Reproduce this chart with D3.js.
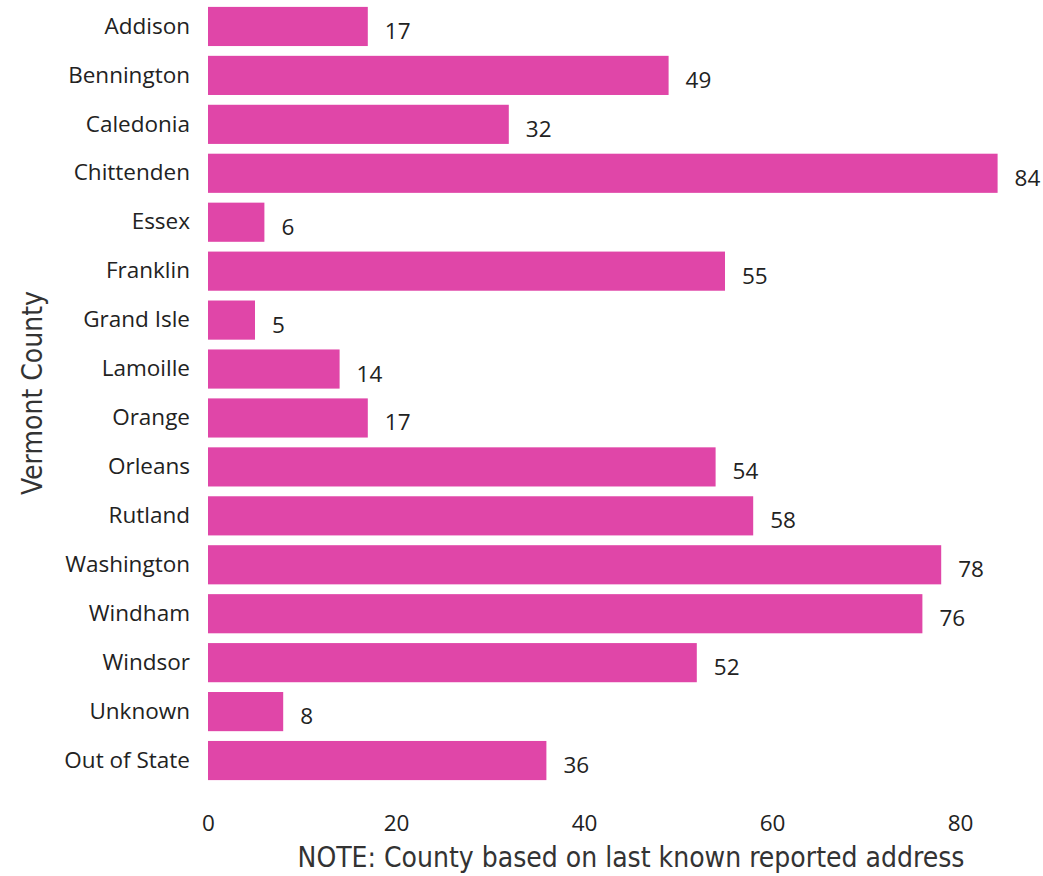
<!DOCTYPE html>
<html><head><meta charset="utf-8">
<script src="https://cdn.jsdelivr.net/npm/d3@7"></script>
<style>
body{margin:0;background:#fff;}
svg{display:block;}
</style></head>
<body>
<svg id="chart" width="1043" height="876"></svg>
<script>
const counties = ["Addison","Bennington","Caledonia","Chittenden","Essex","Franklin","Grand Isle","Lamoille","Orange","Orleans","Rutland","Washington","Windham","Windsor","Unknown","Out of State"];
const counts = [17,49,32,84,6,55,5,14,17,54,58,78,76,52,8,36];
const xTicks = [0,20,40,60,80];
const xTitle = "NOTE: County based on last known reported address";
const yTitle = "Vermont County";

const data = counties.map((c,i)=>({county:c, value:counts[i]}));
const svg = d3.select("#chart");
const mLeft = 208, mTop = 2;
const x = d3.scaleLinear().domain([0,80]).range([mLeft, mLeft + 752]);
const y = d3.scaleBand().domain(counties).range([mTop, mTop + 783]).paddingInner(0.2).paddingOuter(0.1);

const labelFont = "'Open Sans', 'Noto Sans', sans-serif";
const titleFont = "'DejaVu Sans Condensed', 'DejaVu Sans', sans-serif";
const color = "#E046A8";
const fs = 22.5;

svg.append("g").selectAll("rect").data(data).join("rect")
  .attr("x", x(0)).attr("y", d=>y(d.county))
  .attr("width", d=>x(d.value)-x(0)).attr("height", y.bandwidth())
  .attr("fill", color);

svg.append("g").selectAll("text").data(data).join("text")
  .attr("x", d=>x(d.value)+17).attr("y", d=>y(d.county)+y.bandwidth()/2+4)
  .attr("dominant-baseline","central")
  .attr("font-family", labelFont).attr("font-size", fs).attr("fill","#222")
  .text(d=>d.value);

const yAxis = svg.append("g").attr("transform",`translate(${mLeft},0)`)
  .call(d3.axisLeft(y).tickSize(0).tickPadding(18));
yAxis.select(".domain").remove();
yAxis.selectAll("text").attr("font-family", labelFont).attr("font-size", fs).attr("fill","#222");

const xAxis = svg.append("g").attr("transform",`translate(0,800)`)
  .call(d3.axisBottom(x).tickValues(xTicks).tickSize(0).tickPadding(15));
xAxis.select(".domain").remove();
xAxis.selectAll("text").attr("font-family", labelFont).attr("font-size", fs).attr("fill","#222");

svg.append("text").attr("x", 631).attr("y", 867).attr("text-anchor","middle")
  .attr("font-family", titleFont).attr("font-size", 28)
  .attr("fill","#333").text(xTitle);

svg.append("text").attr("transform","translate(42,393) rotate(-90)").attr("text-anchor","middle")
  .attr("font-family", titleFont).attr("font-size", 28)
  .attr("fill","#333").text(yTitle);
</script>
</body></html>
